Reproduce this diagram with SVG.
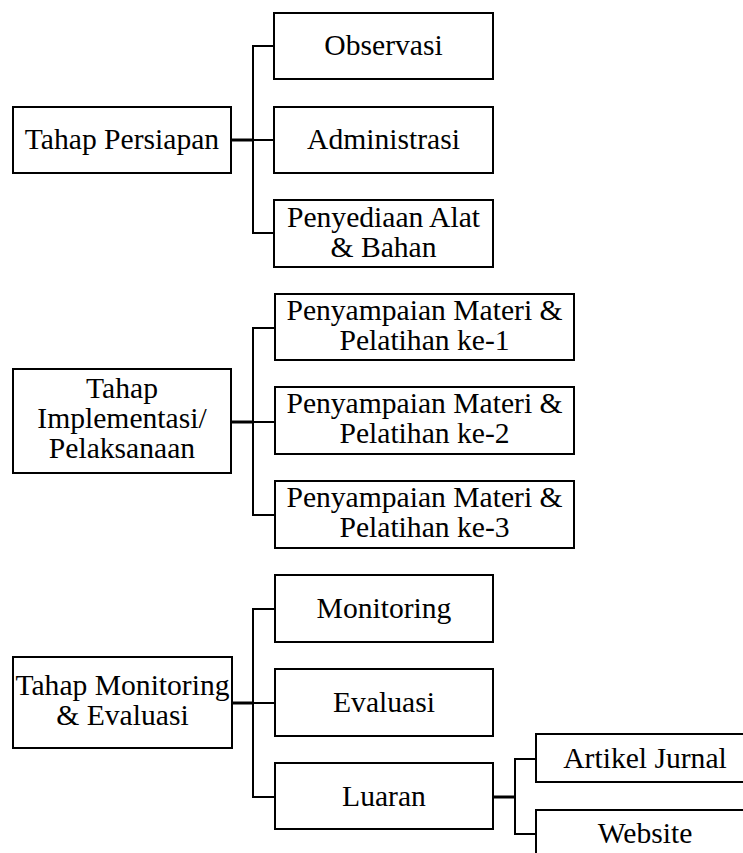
<svg xmlns="http://www.w3.org/2000/svg" width="743" height="853" viewBox="0 0 743 853">
<style>
.box{fill:#fff;stroke:#000;stroke-width:2}
.t{font-family:'Liberation Serif','Times New Roman',Tinos,'DejaVu Serif',serif;font-size:29.6px;fill:#000;text-anchor:middle}
.c{fill:none;stroke:#000;stroke-width:2}
.ct{fill:none;stroke:#000;stroke-width:3}
</style>
<rect width="743" height="853" fill="#fff"/>
<g id="connectors">
<path class="ct" d="M231 140H253"/>
<path class="c" d="M274 46H253V233H274M253 140H274"/>
<path class="ct" d="M231 422H253"/>
<path class="c" d="M275 328H253V515H275M253 422H275"/>
<path class="ct" d="M232 703H253"/>
<path class="c" d="M275 609H253V797H275M253 703H275"/>
<path class="ct" d="M493 797H515"/>
<path class="c" d="M536 759H515V834H536"/>
</g>
<g font-family="Liberation Serif, Times New Roman, DejaVu Serif, serif">
<g id="persiapan"><rect class="box" x="13" y="107" width="218" height="66"/><text class="t" x="122" y="149">Tahap Persiapan</text></g>
<g id="observasi"><rect class="box" x="274" y="13" width="219" height="66"/><text class="t" x="383.5" y="55">Observasi</text></g>
<g id="administrasi"><rect class="box" x="274" y="107" width="219" height="66"/><text class="t" x="383.5" y="149">Administrasi</text></g>
<g id="penyediaan"><rect class="box" x="274" y="200" width="219" height="67"/><text class="t" x="383.5" y="227">Penyediaan Alat</text><text class="t" x="383.5" y="257">&amp; Bahan</text></g>
<g id="implementasi"><rect class="box" x="13" y="369" width="218" height="104"/><text class="t" x="122" y="398">Tahap</text><text class="t" x="122" y="428">Implementasi/</text><text class="t" x="122" y="458">Pelaksanaan</text></g>
<g id="pelatihan1"><rect class="box" x="275" y="294" width="299" height="66"/><text class="t" x="424.5" y="320">Penyampaian Materi &amp;</text><text class="t" x="424.5" y="350">Pelatihan ke-1</text></g>
<g id="pelatihan2"><rect class="box" x="275" y="387" width="299" height="67"/><text class="t" x="424.5" y="413">Penyampaian Materi &amp;</text><text class="t" x="424.5" y="443">Pelatihan ke-2</text></g>
<g id="pelatihan3"><rect class="box" x="275" y="481" width="299" height="67"/><text class="t" x="424.5" y="507">Penyampaian Materi &amp;</text><text class="t" x="424.5" y="537">Pelatihan ke-3</text></g>
<g id="monev"><rect class="box" x="13" y="657" width="219" height="91"/><text class="t" x="122.5" y="695">Tahap Monitoring</text><text class="t" x="122.5" y="725">&amp; Evaluasi</text></g>
<g id="monitoring"><rect class="box" x="275" y="575" width="218" height="67"/><text class="t" x="384" y="618">Monitoring</text></g>
<g id="evaluasi"><rect class="box" x="275" y="669" width="218" height="67"/><text class="t" x="384" y="712">Evaluasi</text></g>
<g id="luaran"><rect class="box" x="275" y="763" width="218" height="66"/><text class="t" x="384" y="806">Luaran</text></g>
<g id="artikel"><rect class="box" x="536" y="734" width="218" height="48"/><text class="t" x="645" y="768">Artikel Jurnal</text></g>
<g id="website"><rect class="box" x="536" y="810" width="218" height="48"/><text class="t" x="645" y="843">Website</text></g>
</g>
</svg>
